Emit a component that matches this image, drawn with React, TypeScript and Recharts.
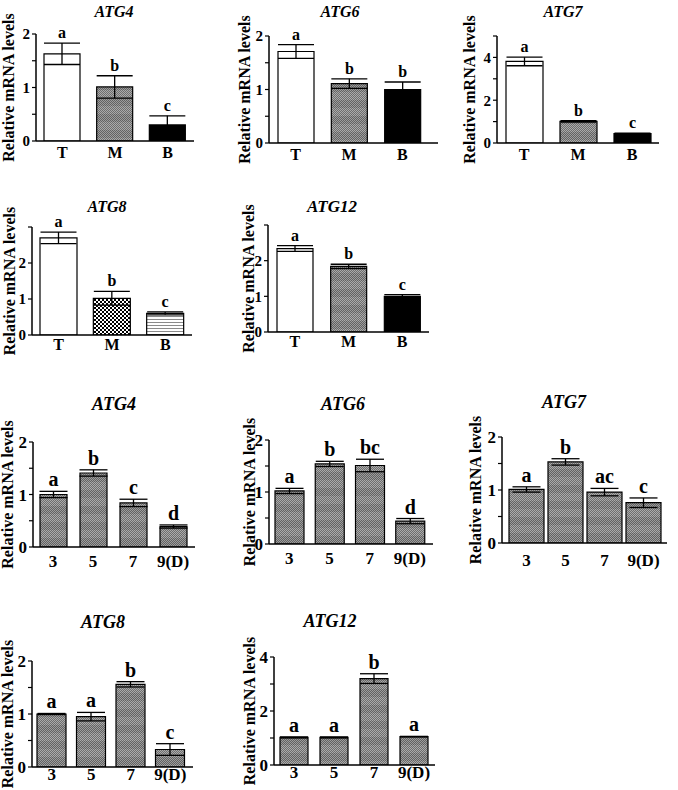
import React from 'react';
import { BarChart, Bar, XAxis, YAxis, Cell, ErrorBar, LabelList } from 'recharts';

const SERIF = "'Liberation Serif', Tinos, 'Times New Roman', 'DejaVu Serif', serif";
const YW = 46;
const MT = 40;
const MR = 6;
const XH = 30;

// categories
const tissues = ['T', 'M', 'B'];
const days = ['3', '5', '7', '9(D)'];

// tissue panels (T / M / B)
const atg4TMean = [1.63, 1.01, 0.3];
const atg4TErr = [0.2, 0.21, 0.17];
const atg4TSig = ['a', 'b', 'c'];

const atg6TMean = [1.71, 1.11, 1.0];
const atg6TErr = [0.13, 0.09, 0.14];
const atg6TSig = ['a', 'b', 'b'];

const atg7TMean = [3.81, 1.01, 0.44];
const atg7TErr = [0.2, 0.03, 0.02];
const atg7TSig = ['a', 'b', 'c'];

const atg8TMean = [2.7, 1.02, 0.6];
const atg8TErr = [0.16, 0.19, 0.04];
const atg8TSig = ['a', 'b', 'c'];

const atg12TMean = [2.34, 1.84, 1.0];
const atg12TErr = [0.08, 0.06, 0.05];
const atg12TSig = ['a', 'b', 'c'];

// day panels (3 / 5 / 7 / 9 D)
const atg4DMean = [1.0, 1.41, 0.84, 0.39];
const atg4DErr = [0.06, 0.06, 0.07, 0.03];
const atg4DSig = ['a', 'b', 'c', 'd'];

const atg6DMean = [1.02, 1.54, 1.51, 0.44];
const atg6DErr = [0.05, 0.05, 0.12, 0.05];
const atg6DSig = ['a', 'b', 'bc', 'd'];

const atg7DMean = [1.01, 1.53, 0.96, 0.76];
const atg7DErr = [0.05, 0.06, 0.07, 0.09];
const atg7DSig = ['a', 'b', 'ac', 'c'];

const atg8DMean = [1.0, 0.95, 1.56, 0.33];
const atg8DErr = [0.01, 0.08, 0.05, 0.11];
const atg8DSig = ['a', 'a', 'b', 'c'];

const atg12DMean = [1.02, 1.02, 3.2, 1.05];
const atg12DErr = [0.02, 0.02, 0.18, 0.01];
const atg12DSig = ['a', 'a', 'b', 'a'];

// y ticks
const halfTicks = [0, 0.5, 1, 1.5, 2];
const halfShown = [0, 1, 2];
const fiveTicks = [0, 1, 2, 3, 4, 5];
const fourTicks = [0, 1, 2, 3, 4];
const evenShown = [0, 2, 4];
const threeTicks = [0, 1, 2, 3];

const tissueFills = ['#ffffff', 'url(#dots)', '#000000'];
const atg8TissueFills = ['#ffffff', 'url(#checker)', 'url(#hlines)'];
const dayFills = ['url(#dots)', 'url(#dots)', 'url(#dots)', 'url(#dots)'];

type Geo = {
  ax: number; top: number; bottom: number; right: number;
  padL: number; padR: number; bar: number; cap: number;
  xm: number; xf: number; yf: number; lf: number; lg: number;
  tx: number; ty: number; tf: number;
};

type PanelProps = {
  title: string; cats: string[]; mean: number[]; err: number[]; sig: string[];
  fills: string[]; yMax: number; ticks: number[]; shown: number[]; g: Geo;
};

const sigLabel = (mean: number[], err: number[], size: number) => (props: any) => {
  const vb = props.viewBox ?? props;
  const x = Number(vb.x ?? props.x);
  const y = Number(vb.y ?? props.y);
  const w = Number(vb.width ?? props.width);
  const h = Number(vb.height ?? props.height);
  const i = props.index;
  const px = Math.abs(h) / mean[i];
  const top = Math.min(y, y + h) - err[i] * px;
  return (
    <text x={x + w / 2} y={top - 5} textAnchor="middle" fontFamily={SERIF} fontWeight="bold" fontSize={size} fill="#000">
      {props.value}
    </text>
  );
};

function Panel({ title, cats, mean, err, sig, fills, yMax, ticks, shown, g }: PanelProps) {
  const data = cats.map((c, i) => ({ name: c, mean: mean[i], err: err[i], sig: sig[i] }));
  const w = YW + (g.right - g.ax) + MR;
  const h = MT + (g.bottom - g.top) + XH;
  const axisStyle = { stroke: '#000', strokeWidth: 1.5 };
  return (
    <>
      <div
        style={{
          position: 'absolute', left: g.tx - 60, width: 120, top: g.ty - 0.51 * g.tf,
          textAlign: 'center', fontFamily: SERIF, fontStyle: 'italic', fontWeight: 'bold',
          fontSize: g.tf, lineHeight: 1,
        }}
      >
        {title}
      </div>
      <div style={{ position: 'absolute', left: g.ax - YW, top: g.top - MT }}>
        <BarChart width={w} height={h} data={data} margin={{ top: MT, right: MR, bottom: 0, left: 0 }}>
          <XAxis
            dataKey="name"
            height={XH}
            interval={0}
            padding={{ left: g.padL, right: g.padR }}
            tickSize={0}
            tickMargin={g.xm}
            axisLine={axisStyle}
            tick={{ fill: '#000', fontSize: g.xf, fontWeight: 'bold', fontFamily: SERIF }}
          />
          <YAxis
            width={YW}
            domain={[0, yMax]}
            allowDataOverflow
            ticks={ticks}
            interval={0}
            tickSize={4}
            tickMargin={2}
            tickFormatter={(v: number) => (shown.includes(v) ? String(v) : '')}
            axisLine={axisStyle}
            tickLine={{ stroke: '#000', strokeWidth: 1.2 }}
            tick={{ fill: '#000', fontSize: g.yf, fontWeight: 'bold', fontFamily: SERIF }}
            label={{
              value: 'Relative mRNA levels', angle: -90, position: 'insideLeft', offset: YW - g.lg,
              style: { textAnchor: 'middle', fontFamily: SERIF, fontWeight: 'bold', fontSize: 16, fill: '#000' },
            }}
          />
          <Bar dataKey="mean" barSize={g.bar} stroke="#000" strokeWidth={1.2} isAnimationActive={false}>
            {data.map((d, i) => (
              <Cell key={d.name} fill={fills[i]} />
            ))}
            <ErrorBar dataKey="err" width={g.cap} stroke="#000" strokeWidth={1.3} />
            <LabelList dataKey="sig" content={sigLabel(mean, err, g.lf)} />
          </Bar>
        </BarChart>
      </div>
    </>
  );
}

const dotRows = Array.from({ length: 16 }, (_, r) => r);

export default function App() {
  return (
    <div style={{ position: 'absolute', left: 0, top: 0, width: 678, height: 790, background: '#fff', fontFamily: SERIF, overflow: 'hidden' }}>
      <svg width={0} height={0} style={{ position: 'absolute' }}>
        <defs>
          <pattern id="dots" width={2} height={16} patternUnits="userSpaceOnUse">
            <rect width={2} height={8} fill="#ababab" />
            <rect y={8} width={2} height={8} fill="#9d9d9d" />
            {dotRows.map((r) => (
              <rect key={r} x={r % 2} y={r} width={1} height={1} fill={r < 8 ? '#6e6e6e' : '#626262'} />
            ))}
          </pattern>
          <pattern id="checker" width={4} height={4} patternUnits="userSpaceOnUse">
            <rect width={4} height={4} fill="#fff" />
            <rect width={2} height={2} fill="#000" />
            <rect x={2} y={2} width={2} height={2} fill="#000" />
          </pattern>
          <pattern id="hlines" width={4} height={3} patternUnits="userSpaceOnUse">
            <rect width={4} height={3} fill="#fff" />
            <rect width={4} height={1} fill="#8a8a8a" />
          </pattern>
        </defs>
      </svg>

      <Panel title="ATG4" cats={tissues} mean={atg4TMean} err={atg4TErr} sig={atg4TSig} fills={tissueFills}
        yMax={2} ticks={halfTicks} shown={halfShown}
        g={{ ax: 36, top: 34, bottom: 141, right: 194, padL: 0, padR: 0, bar: 36, cap: 18, xm: 6, xf: 16, yf: 15, lf: 16, lg: 28, tx: 114, ty: 12, tf: 16 }} />
      <Panel title="ATG6" cats={tissues} mean={atg6TMean} err={atg6TErr} sig={atg6TSig} fills={tissueFills}
        yMax={2} ticks={halfTicks} shown={halfShown}
        g={{ ax: 269, top: 36, bottom: 143, right: 438, padL: 0, padR: 9, bar: 36, cap: 18, xm: 6, xf: 16, yf: 15, lf: 16, lg: 25, tx: 340, ty: 12, tf: 16 }} />
      <Panel title="ATG7" cats={tissues} mean={atg7TMean} err={atg7TErr} sig={atg7TSig} fills={tissueFills}
        yMax={5} ticks={fiveTicks} shown={evenShown}
        g={{ ax: 497, top: 36, bottom: 143, right: 659, padL: 0, padR: 0, bar: 37, cap: 18, xm: 6, xf: 16, yf: 15, lf: 16, lg: 28, tx: 563, ty: 12, tf: 16 }} />

      <Panel title="ATG8" cats={tissues} mean={atg8TMean} err={atg8TErr} sig={atg8TSig} fills={atg8TissueFills}
        yMax={3} ticks={threeTicks} shown={halfShown}
        g={{ ax: 32, top: 227, bottom: 335, right: 192, padL: 0, padR: 0, bar: 37, cap: 18, xm: 4, xf: 16, yf: 15, lf: 16, lg: 23, tx: 107, ty: 207, tf: 16 }} />
      <Panel title="ATG12" cats={tissues} mean={atg12TMean} err={atg12TErr} sig={atg12TSig} fills={tissueFills}
        yMax={3} ticks={threeTicks} shown={halfShown}
        g={{ ax: 268, top: 225, bottom: 332, right: 429, padL: 0, padR: 0, bar: 36, cap: 18, xm: 4, xf: 16, yf: 15, lf: 16, lg: 20, tx: 332, ty: 207, tf: 17 }} />

      <Panel title="ATG4" cats={days} mean={atg4DMean} err={atg4DErr} sig={atg4DSig} fills={dayFills}
        yMax={2} ticks={halfTicks} shown={halfShown}
        g={{ ax: 33, top: 442, bottom: 547, right: 195, padL: 0, padR: 2, bar: 27, cap: 14, xm: 8, xf: 17, yf: 17, lf: 20, lg: 26, tx: 114, ty: 404, tf: 18 }} />
      <Panel title="ATG6" cats={days} mean={atg6DMean} err={atg6DErr} sig={atg6DSig} fills={dayFills}
        yMax={2} ticks={halfTicks} shown={halfShown}
        g={{ ax: 269, top: 440, bottom: 544, right: 433, padL: 0, padR: 3, bar: 29, cap: 14, xm: 8, xf: 17, yf: 17, lf: 20, lg: 20, tx: 343, ty: 404, tf: 18 }} />
      <Panel title="ATG7" cats={days} mean={atg7DMean} err={atg7DErr} sig={atg7DSig} fills={dayFills}
        yMax={2} ticks={halfTicks} shown={halfShown}
        g={{ ax: 502, top: 437, bottom: 543, right: 667, padL: 5, padR: 4, bar: 35, cap: 14, xm: 11, xf: 17, yf: 17, lf: 20, lg: 27, tx: 564, ty: 402, tf: 18 }} />

      <Panel title="ATG8" cats={days} mean={atg8DMean} err={atg8DErr} sig={atg8DSig} fills={dayFills}
        yMax={2} ticks={halfTicks} shown={halfShown}
        g={{ ax: 32, top: 661, bottom: 767, right: 193, padL: 0, padR: 3, bar: 29, cap: 14, xm: 1, xf: 17, yf: 17, lf: 20, lg: 25, tx: 103, ty: 622, tf: 18 }} />
      <Panel title="ATG12" cats={days} mean={atg12DMean} err={atg12DErr} sig={atg12DSig} fills={dayFills}
        yMax={4} ticks={fourTicks} shown={evenShown}
        g={{ ax: 274, top: 657, bottom: 765, right: 435, padL: 0, padR: 1, bar: 28, cap: 14, xm: 1, xf: 17, yf: 17, lf: 20, lg: 25, tx: 330, ty: 621, tf: 18 }} />
    </div>
  );
}
